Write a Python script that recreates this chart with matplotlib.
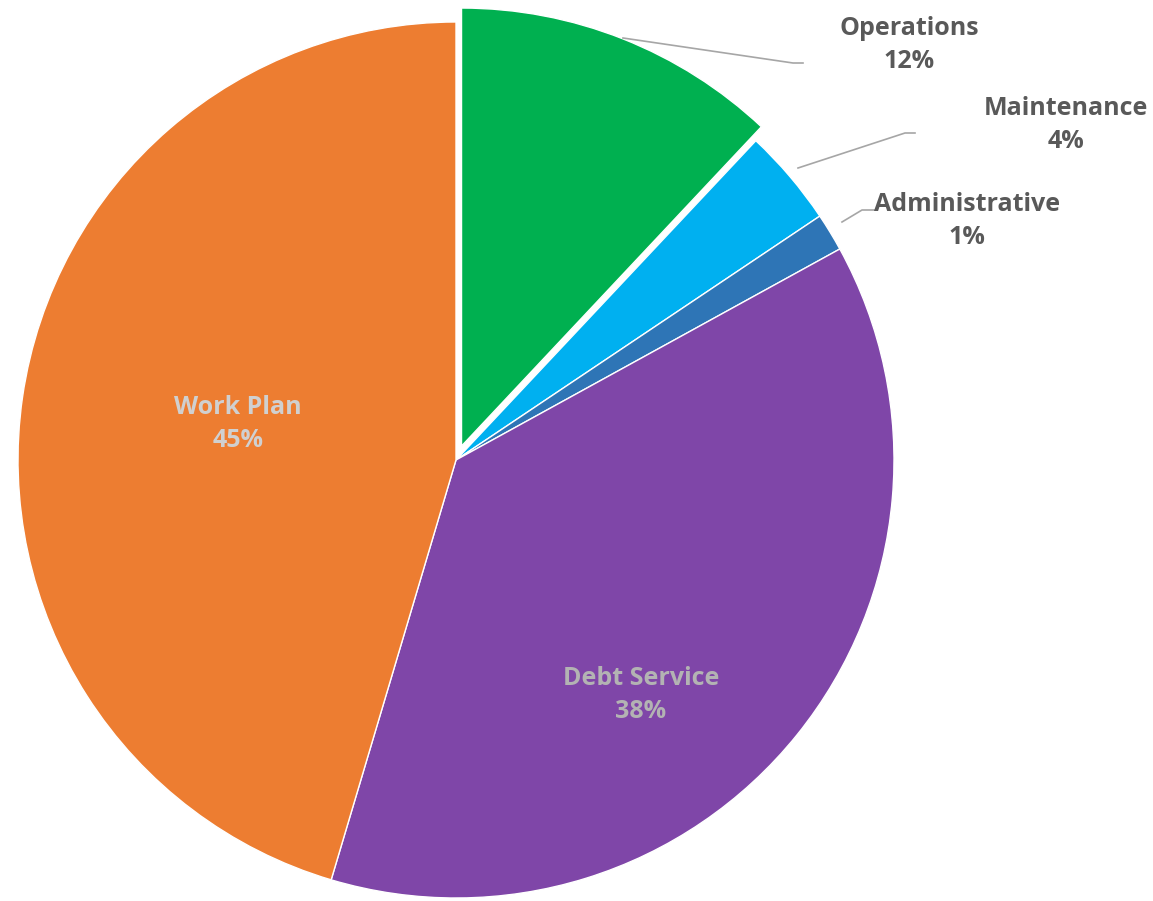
import matplotlib
matplotlib.use("Agg")
import matplotlib.pyplot as plt

# slice data, clockwise from 12 o'clock
categories = ["Operations", "Maintenance", "Administrative", "Debt Service", "Work Plan"]
shares = [12.0, 3.6, 1.4, 37.6, 45.4]
colors = ["#00B050", "#00B0F0", "#2E75B6", "#7F46A8", "#ED7D31"]

W, H = 1153, 901
cx, cy, R = 456, H - 460, 438
# matplotlib's explode is in data units (pixels here)
explode = [15, 0, 0, 0, 0]

fig = plt.figure(figsize=(W / 100, H / 100), dpi=100)
ax = fig.add_axes([0, 0, 1, 1])

ax.pie(shares, colors=colors, explode=explode, startangle=90,
       counterclock=False, center=(cx, cy), radius=R, frame=True,
       wedgeprops=dict(edgecolor="white", linewidth=1.0))
ax.set_xlim(0, W)
ax.set_ylim(0, H)
ax.set_aspect("equal")
ax.axis("off")

font = dict(family=["Open Sans", "DejaVu Sans"], fontweight="bold", fontsize=18,
            ha="center", va="center")

# label anchor points (pixels from top-left) and leader lines
label_pos = {
    "Operations": (909, 45),
    "Maintenance": (1066, 125),
    "Administrative": (967, 221),
    "Debt Service": (641, 695),
    "Work Plan": (238, 424),
}
leaders = {
    "Operations": [(623, 38), (793, 63), (803, 63)],
    "Maintenance": [(798, 168), (905, 133), (915, 133)],
    "Administrative": [(842, 222), (862, 210), (875, 210)],
}
inside_color = {"Debt Service": "#B3B3B3", "Work Plan": "#D0D0D0"}

for name, val in zip(categories, shares):
    x, y = label_pos[name]
    txt = f"{name}\n{val:.0f}%"
    col = inside_color.get(name, "#595959")
    ax.text(x, H - y, txt, color=col, linespacing=1.4, **font)
    if name in leaders:
        pts = leaders[name]
        ax.plot([p[0] for p in pts], [H - p[1] for p in pts],
                color="#A6A6A6", lw=1.2)

fig.savefig("out.png", dpi=100)
